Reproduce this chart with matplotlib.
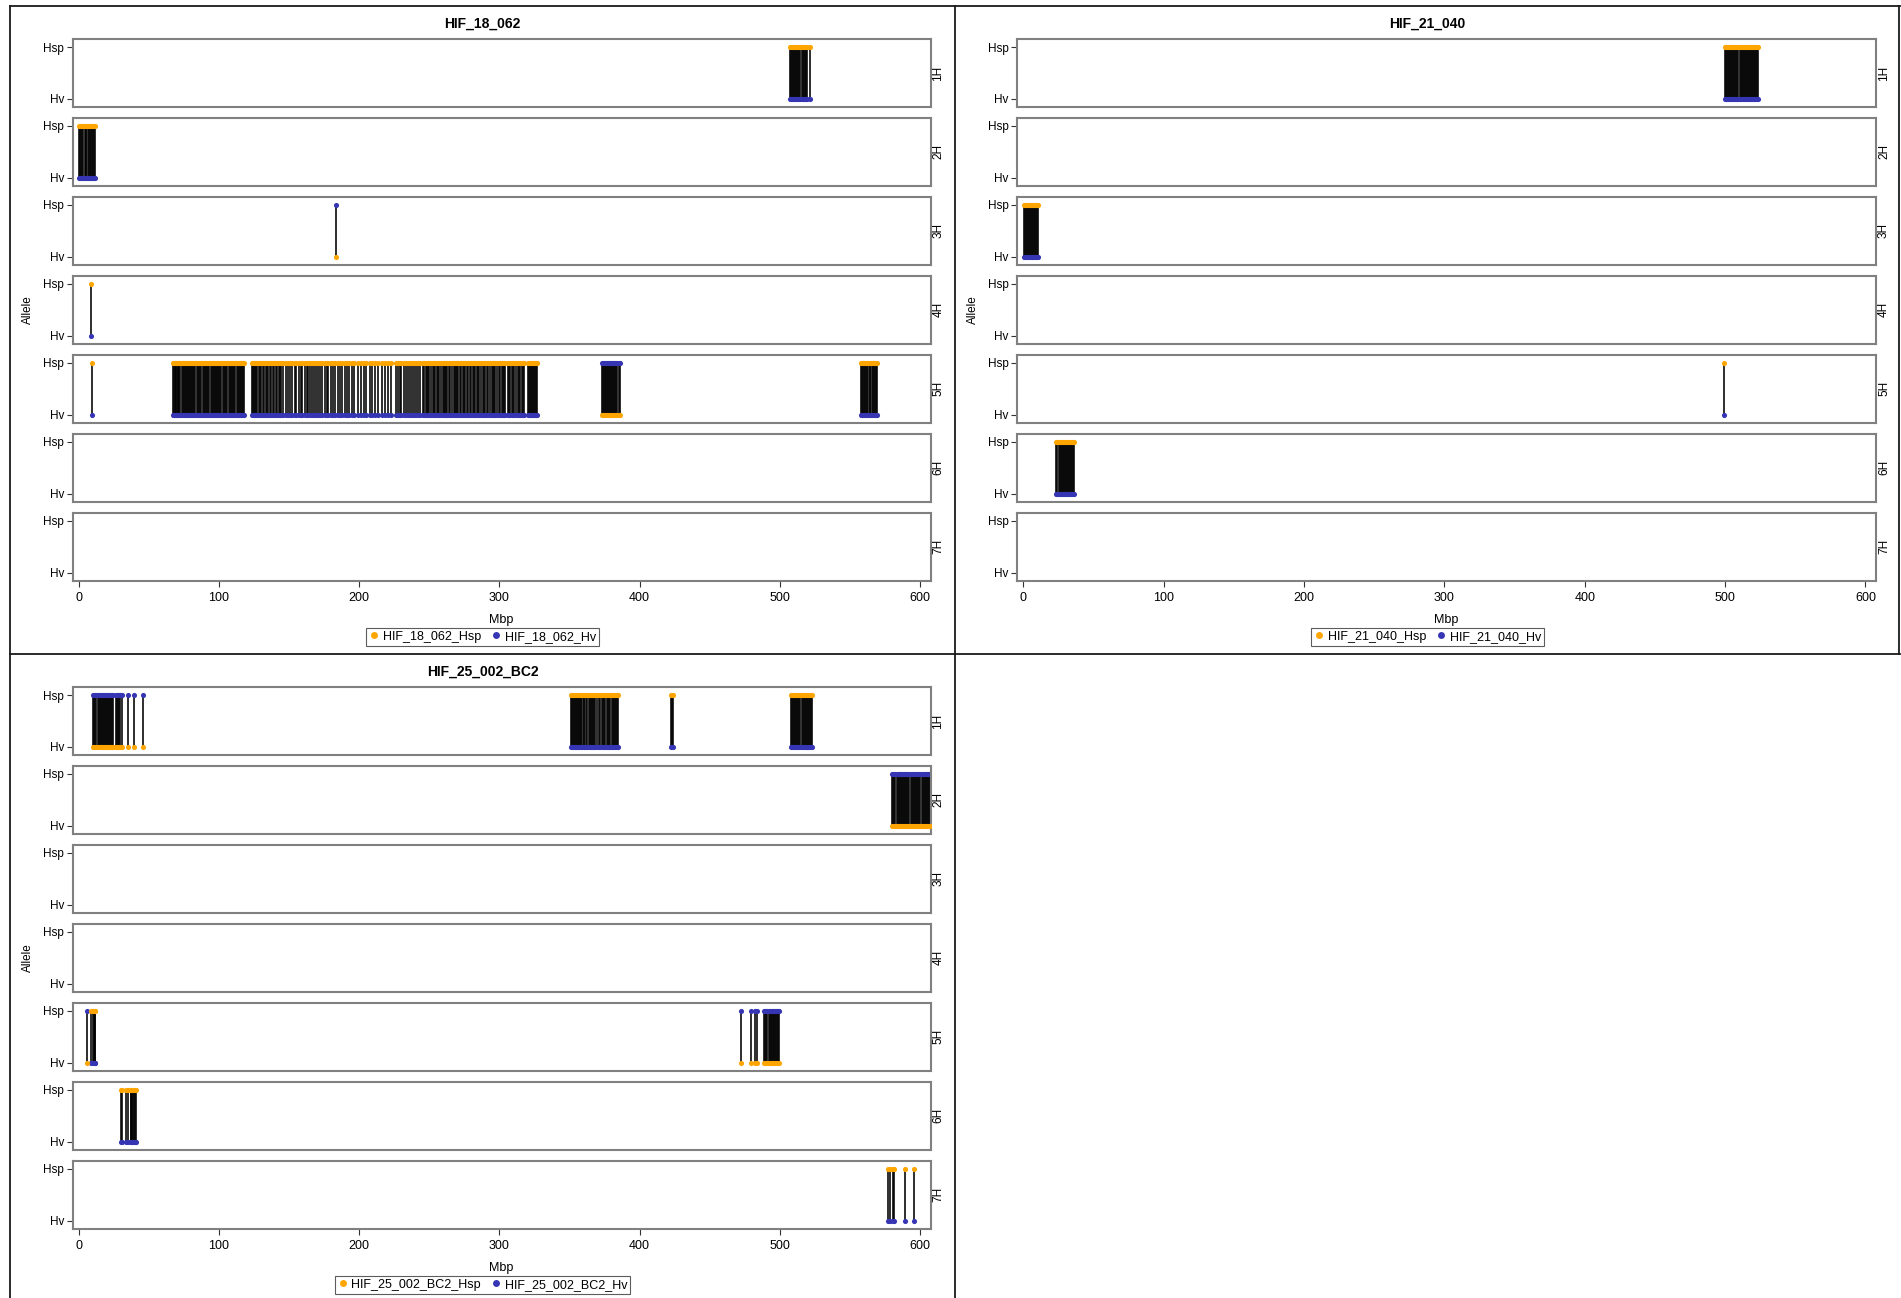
import matplotlib
matplotlib.use('Agg')
import matplotlib.pyplot as plt
from matplotlib.lines import Line2D

plt.rcParams['font.family'] = ['Liberation Sans', 'DejaVu Sans']

# ---------------- data ----------------
samples = ['HIF_18_062', 'HIF_21_040', 'HIF_25_002_BC2']
chromosomes = ['1H', '2H', '3H', '4H', '5H', '6H', '7H']
allele_ticks = [0, 1]
allele_labels = ['Hv', 'Hsp']
x_ticks = [0, 100, 200, 300, 400, 500, 600]
x_label = 'Mbp'
y_label = 'Allele'

# Marker positions (Mbp) where the sample carries the Hsp allele (orange at Hsp, blue at Hv)
s18_hsp = {
    '1H': [507.0, 507.8, 508.5, 509.3, 510.0, 510.9, 511.6, 512.4, 513.1, 514.0, 514.7, 515.5,
           516.2, 517.0, 517.8, 518.6, 519.3, 521.6],
    '2H': [0.3, 1.0, 1.8, 2.5, 3.3, 4.1, 4.9, 5.4, 6.7, 7.4, 8.1, 8.8, 9.5, 10.3, 11.0, 11.6],
    '4H': [8.5],
    '5H': [9.5,
           67.0, 67.6, 68.3, 69.0, 69.6, 70.4, 71.1, 71.8, 72.5, 73.3, 74.0, 74.8, 75.5, 76.2, 77.0,
           77.9, 78.6, 79.4, 80.1, 80.8, 81.6, 82.3, 83.1, 84.6, 85.3, 86.0, 86.8, 87.5, 88.3, 89.0,
           89.8, 90.5, 91.3, 92.0, 92.8, 94.2, 94.9, 95.7, 96.4, 97.2, 97.9, 98.7, 99.4, 100.2, 100.9,
           101.7, 103.0, 103.8, 104.5, 105.3, 106.0, 106.8, 107.5, 108.3, 109.0, 109.8, 110.5, 111.3,
           112.7, 113.4, 114.2, 114.9, 115.7, 116.4, 117.2, 118.0,
           123.2, 124.0, 124.9, 125.7, 126.6, 127.4, 128.3, 129.5, 130.3, 131.2, 132.0, 133.3, 134.1,
           135.0, 136.4, 137.2, 138.5, 139.3, 140.6, 141.5, 142.8, 143.6, 144.5, 146.0, 147.8, 149.5,
           150.4, 152.1, 153.9, 155.0, 156.8, 158.5, 159.4, 161.0, 162.7, 163.6, 165.2, 166.1, 167.8,
           169.4, 170.3, 172.0, 173.8, 175.5, 177.1, 178.0, 179.7, 181.5, 183.0, 184.8, 186.2, 188.0,
           189.9, 191.6, 193.0, 194.8, 196.5,
           199.2, 201.5, 203.1, 205.0, 207.4, 209.2, 211.0, 213.6, 216.0, 218.4, 220.5, 222.8,
           226.0, 227.5, 229.1, 230.0, 231.8, 233.4, 235.0, 236.1, 237.9, 239.3, 240.8, 242.0, 243.6,
           245.2, 246.5, 247.6, 248.4, 249.3, 250.1, 251.0, 252.4, 253.2, 254.0, 255.5, 256.3, 257.2,
           258.0, 259.5, 260.3, 261.2, 262.0, 262.8, 264.2, 265.0, 265.9, 267.3, 268.1, 269.0, 269.8,
           270.7, 272.0, 272.9, 273.7, 274.6, 275.4, 277.0, 277.8, 278.7, 280.1, 281.0, 281.8, 282.7,
           284.0, 284.9, 285.8, 287.2, 288.1, 289.0, 289.8, 291.3, 292.2, 293.0, 294.5, 295.4, 296.2,
           297.1, 298.6, 299.4, 300.3, 301.7, 302.6, 303.4, 304.3, 305.8, 306.6, 307.5, 308.9, 309.8,
           310.6, 311.5, 313.0, 313.8, 314.7, 316.0, 316.9, 317.8,
           320.3, 321.0, 321.8, 322.5, 323.3, 324.0, 324.8, 325.6, 326.4, 327.1,
           558.0, 558.7, 559.5, 560.2, 561.0, 561.7, 562.5, 563.2, 564.0, 564.7, 565.5, 566.2, 567.0,
           567.7, 568.5, 569.2],
}
# Marker positions where the sample carries the Hv allele (orange at Hv, blue at Hsp)
s18_hv = {
    '3H': [183.5],
    '5H': [373.0, 373.7, 374.5, 375.2, 376.0, 376.7, 377.5, 378.2, 379.0, 379.7, 380.5, 381.2,
           382.0, 382.7, 383.5, 384.2, 385.0, 385.7],
}

s21_hsp = {
    '1H': [499.8, 500.5, 501.3, 502.0, 502.8, 503.5, 504.3, 505.0, 505.8, 506.5, 507.3, 508.0,
           508.8, 509.5, 510.3, 511.0, 511.8, 512.5, 513.3, 514.0, 514.8, 515.5, 516.3, 517.0,
           517.8, 518.5, 519.3, 520.0, 520.8, 521.5, 522.3, 523.0, 523.7],
    '3H': [0.3, 1.0, 1.8, 2.5, 3.3, 4.0, 4.8, 5.5, 6.3, 7.0, 7.8, 8.5, 9.3, 10.0, 10.6],
    '5H': [499.5],
    '6H': [23.6, 24.3, 25.1, 25.8, 26.6, 27.3, 28.1, 28.8, 29.6, 30.3, 31.1, 31.8, 32.6, 33.3,
           34.1, 34.8, 35.6, 36.3],
}
s21_hv = {}

s25_hsp = {
    '1H': [351.0, 351.7, 352.5, 353.2, 354.0, 354.7, 355.5, 356.2, 357.0, 357.7, 358.5, 359.2,
           360.0, 360.7, 361.5, 362.2, 363.6, 364.3, 365.1, 365.8, 366.6, 367.2,
           368.5, 369.6, 370.8, 372.0, 373.2, 374.0, 374.8, 375.6, 376.4, 377.6, 378.4, 379.2,
           380.0, 381.0, 381.8, 382.6, 383.4, 384.2, 384.9,
           422.2, 422.9, 423.6,
           508.0, 508.7, 509.5, 510.2, 511.0, 511.7, 512.5, 513.2, 514.0, 514.7, 515.5, 516.2,
           517.0, 517.7, 518.5, 519.2, 520.0, 520.7, 521.5, 522.2, 522.9],
    '5H': [8.6, 9.9, 10.6, 11.2, 11.8],
    '6H': [30.1, 30.8, 34.0, 35.2, 36.9, 37.5, 38.2, 38.8, 39.5, 40.1, 40.8],
    '7H': [577.0, 578.6, 580.5, 581.7, 589.5, 595.7],
}
s25_hv = {
    '1H': [10.4, 11.1, 11.9, 12.6, 13.4, 14.1, 14.9, 15.6, 16.4, 17.1, 17.9, 18.6, 19.4, 20.1,
           20.9, 21.6, 22.4, 23.1, 23.9, 24.7, 26.6, 27.3, 28.1, 28.8, 29.6, 30.6,
           35.2, 39.5, 46.1],
    '2H': [580.3, 581.0, 581.8, 582.5, 583.3, 584.0, 584.8, 585.5, 586.3, 587.0, 587.8, 588.5,
           589.3, 590.0, 590.8, 591.5, 592.2, 593.6, 594.3, 595.1, 595.8, 596.6, 597.3, 598.1,
           598.8, 599.6, 600.3, 601.1, 601.8, 602.6, 603.3, 604.1, 604.8, 605.6, 606.3, 607.0],
    '5H': [6.1, 472.3, 479.2, 482.1, 484.0,
           489.0, 489.7, 490.5, 491.2, 492.0, 492.7, 493.5, 494.2, 495.0, 495.7, 496.5, 497.2,
           498.0, 498.7, 499.3],
}

sample_hsp = [s18_hsp, s21_hsp, s25_hsp]
sample_hv = [s18_hv, s21_hv, s25_hv]

# ---------------- style / layout ----------------
W, H = 1901, 1298
ORANGE = '#FFA500'
BLUE = '#3636B4'
FRAME = '#808080'
fig = plt.figure(figsize=(W / 100, H / 100), dpi=100)

# panel geometry in pixels: (axes left, axes right, first row top, panel left, panel right)
panels = [
    (72.5, 930.5, 39.0, 10, 955),
    (1017.0, 1876.0, 39.0, 955, 1900),
    (72.5, 930.5, 687.0, 10, 955),
]
ROW_H = 68.0
ROW_PITCH = 78.95
XLIM = (-4.5, 607.5)
YLIM = (-0.154, 1.154)
MS = 3.7
LW = 1.15


def fx(px):
    return px / W


def fy(py):
    return 1 - py / H


for si, (sample, (ax0, ax1, top0, p0, p1)) in enumerate(zip(samples, panels)):
    hsp = sample_hsp[si]
    hv = sample_hv[si]
    for ci, chrom in enumerate(chromosomes):
        top = top0 + ci * ROW_PITCH
        ax = fig.add_axes([fx(ax0), fy(top + ROW_H), (ax1 - ax0) / W, ROW_H / H])
        ax.set_xlim(*XLIM)
        ax.set_ylim(*YLIM)
        for state, data in ((1, hsp), (0, hv)):
            pos = data.get(chrom, [])
            if not pos:
                continue
            ax.vlines(pos, 0, 1, colors='black', linewidth=LW, zorder=1)
            ax.plot(pos, [1 - state] * len(pos), 'o', color=BLUE, ms=MS, mew=0, zorder=2)
            ax.plot(pos, [state] * len(pos), 'o', color=ORANGE, ms=MS, mew=0, zorder=3)
        ax.set_yticks(allele_ticks)
        ax.set_yticklabels(allele_labels, fontsize=8.5)
        ax.tick_params(axis='y', length=4, width=0.8, color='#333333', pad=2)
        for sp in ax.spines.values():
            sp.set_color(FRAME)
            sp.set_linewidth(1.5)
        if ci < len(chromosomes) - 1:
            ax.set_xticks([])
        else:
            ax.set_xticks(x_ticks)
            ax.set_xticklabels([str(t) for t in x_ticks], fontsize=9)
            ax.tick_params(axis='x', length=4, width=0.8, color='#333333', pad=4)
        fig.text(fx(ax1 + 8), fy(top + ROW_H / 2), chrom, rotation=90,
                 ha='center', va='center', fontsize=8.5)

    pc = (p0 + p1) / 2
    bottom = top0 + 6 * ROW_PITCH + ROW_H
    fig.text(fx(pc), fy(top0 - 15), sample, ha='center', va='center',
             fontsize=10, fontweight='bold')
    fig.text(fx((ax0 + ax1) / 2), fy(bottom + 39.5), x_label, ha='center', va='center', fontsize=9)
    fig.text(fx(ax0 - 44.5), fy((top0 + bottom) / 2), y_label, rotation=90,
             ha='center', va='center', fontsize=8.5)
    handles = [Line2D([], [], marker='o', ls='none', color=ORANGE, ms=5, mew=0),
               Line2D([], [], marker='o', ls='none', color=BLUE, ms=5, mew=0)]
    leg = fig.legend(handles, [sample + '_Hsp', sample + '_Hv'], loc='center',
                     bbox_to_anchor=(fx(pc), fy(bottom + 56)), ncol=2, fontsize=9,
                     frameon=True, fancybox=False, handlelength=0.8, handletextpad=0.3,
                     columnspacing=0.8, borderpad=0.25, borderaxespad=0)
    leg.get_frame().set_edgecolor('#333333')
    leg.get_frame().set_linewidth(0.8)

# panel borders
border_kw = dict(color='#1a1a1a', linewidth=1.3, transform=fig.transFigure)
fig.add_artist(Line2D([fx(10), fx(1900)], [fy(6), fy(6)], **border_kw))
fig.add_artist(Line2D([fx(10), fx(10)], [fy(6), fy(1298)], **border_kw))
fig.add_artist(Line2D([fx(955), fx(955)], [fy(6), fy(1298)], **border_kw))
fig.add_artist(Line2D([fx(10), fx(1900)], [fy(654), fy(654)], **border_kw))
fig.add_artist(Line2D([fx(1899), fx(1899)], [fy(6), fy(654)], **border_kw))

fig.savefig('out.png', dpi=100)
